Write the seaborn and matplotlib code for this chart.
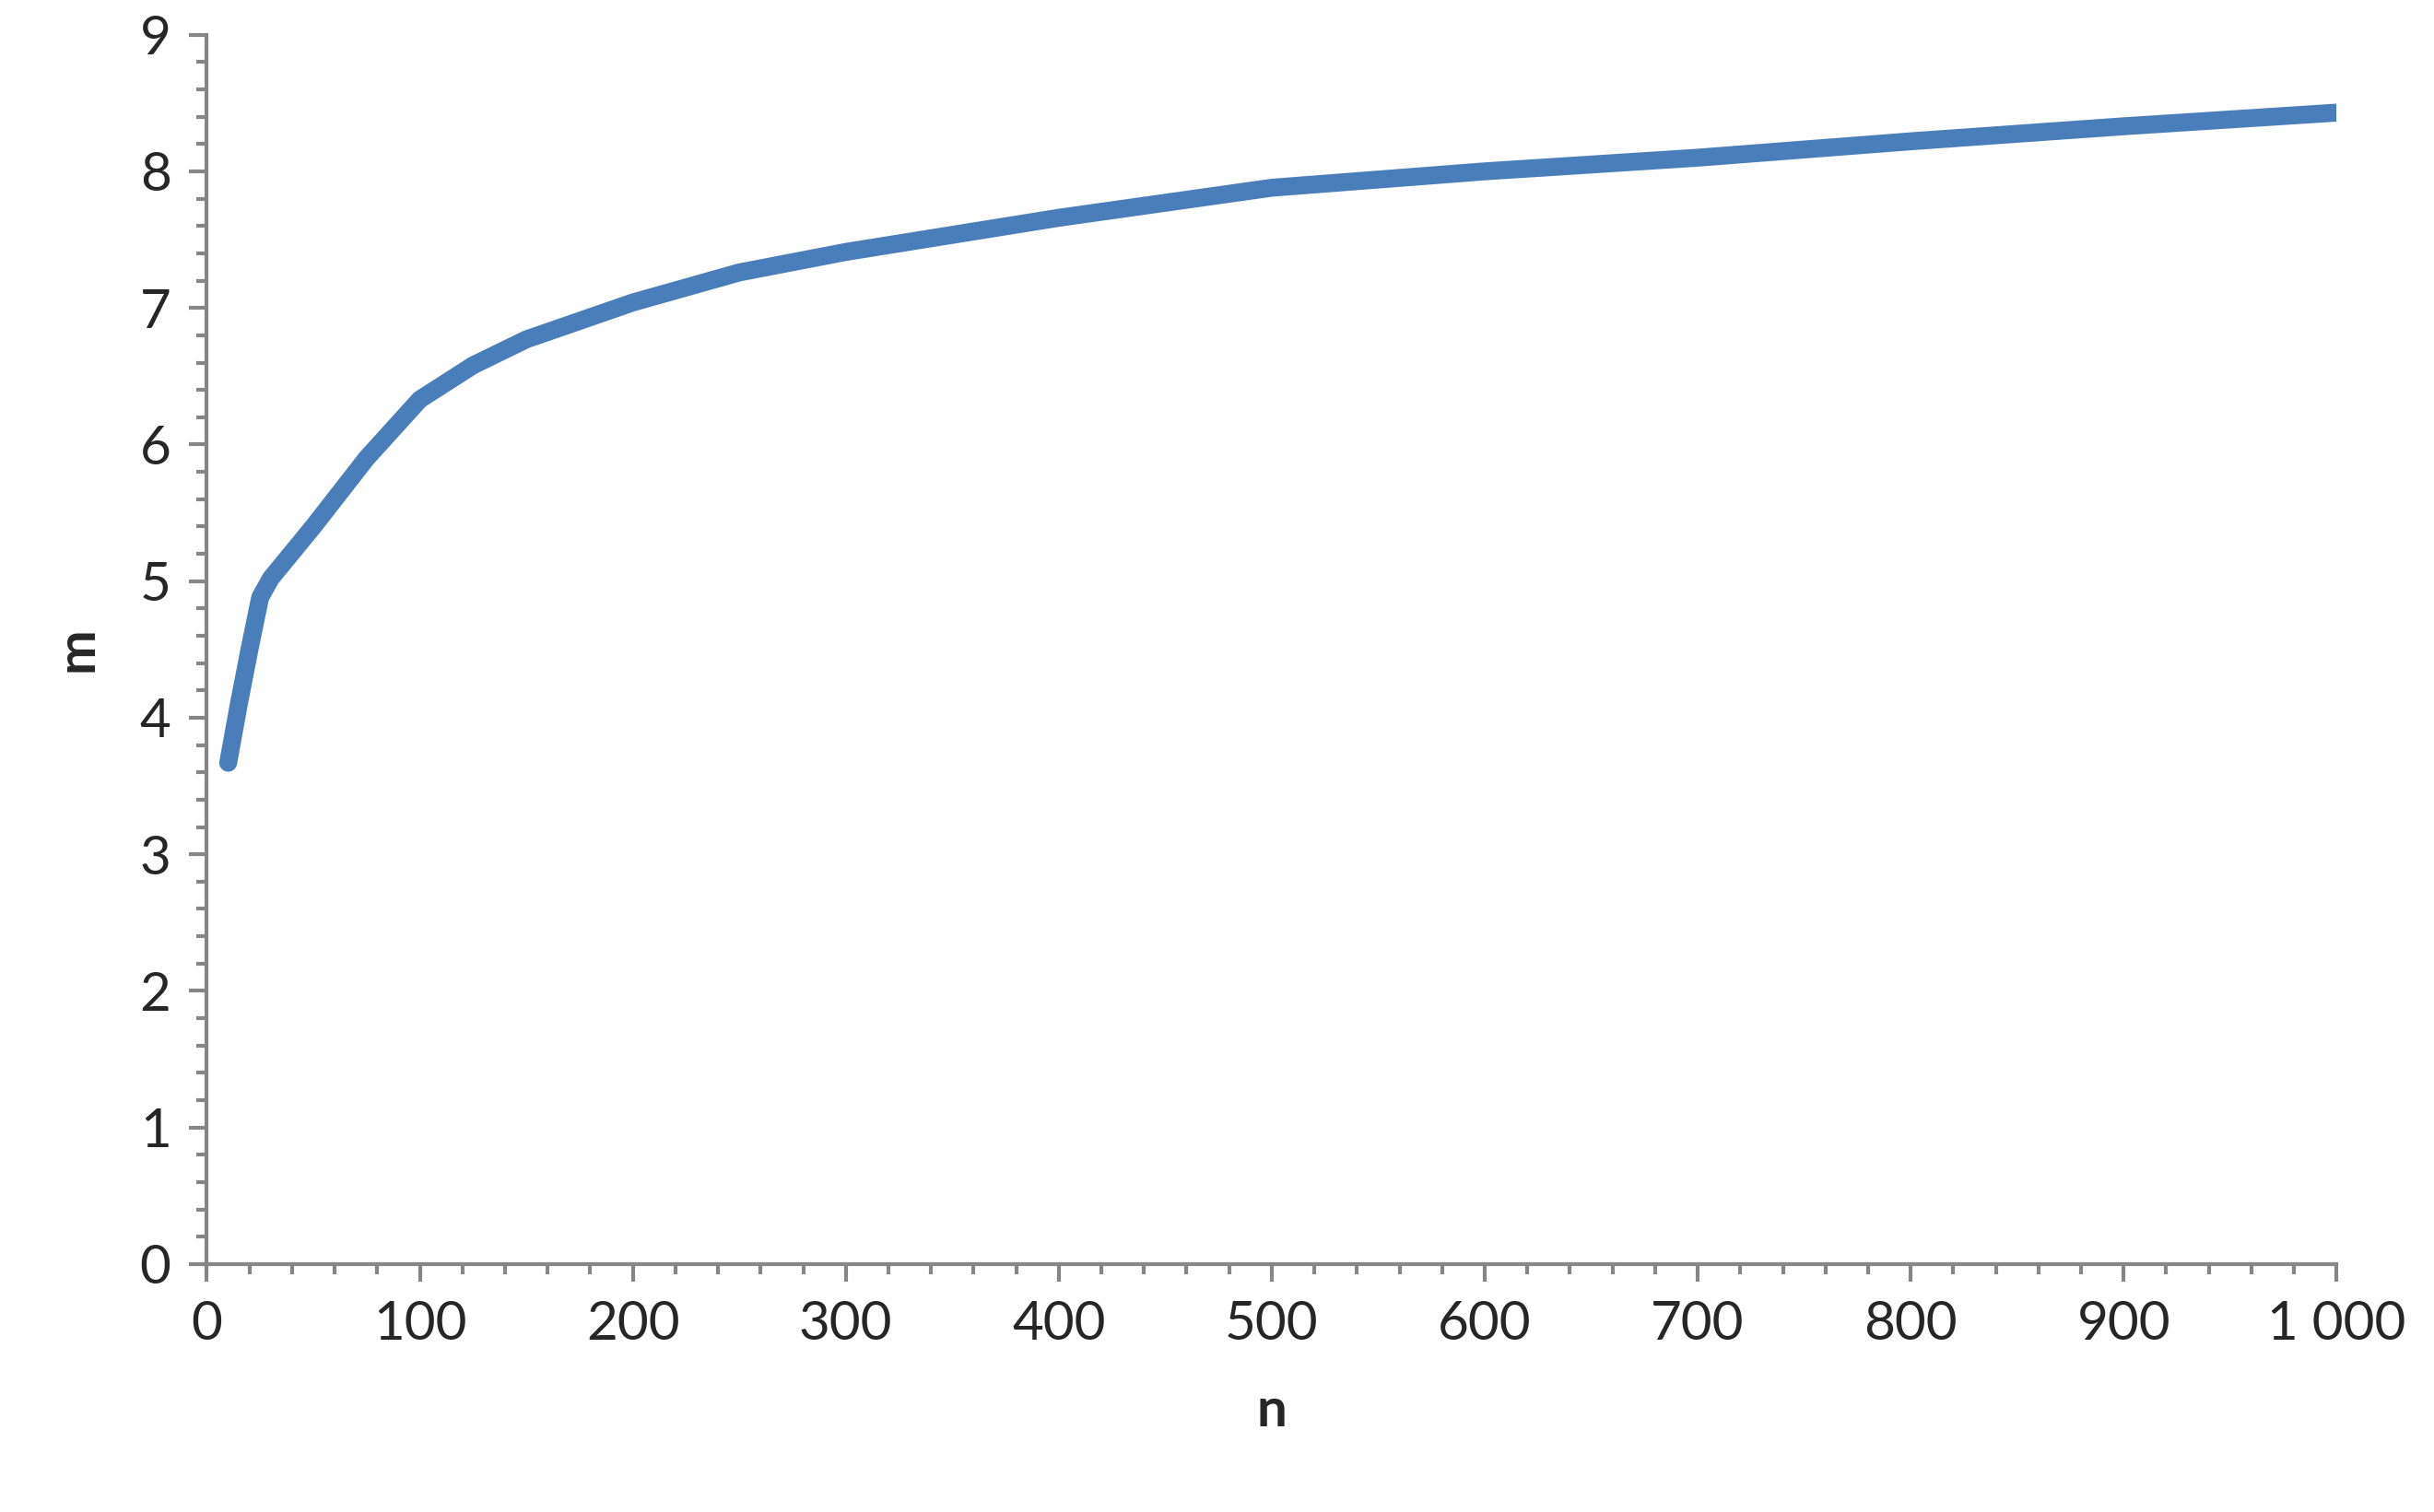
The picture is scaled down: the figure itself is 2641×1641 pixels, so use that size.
import matplotlib
matplotlib.use('Agg')
import matplotlib.pyplot as plt
import seaborn as sns
import pandas as pd
from matplotlib.ticker import MultipleLocator, FuncFormatter

# values
n_values = [10, 15, 20, 25, 30, 50, 75, 100, 125, 150, 200, 250, 300,
            400, 500, 600, 700, 800, 900, 1000]
m_values = [3.67, 4.1, 4.5, 4.88, 5.02, 5.4, 5.9, 6.33, 6.58, 6.77, 7.04,
            7.26, 7.41, 7.66, 7.88, 8.0, 8.1, 8.22, 8.33, 8.43]

df = pd.DataFrame({'n': n_values, 'm': m_values})

sns.set_style('white')
plt.rcParams['font.family'] = ['Lato', 'DejaVu Sans']

fig = plt.figure(figsize=(26.41, 16.41), dpi=100)
ax = fig.add_axes([0.085, 0.164, 0.875, 0.813])

sns.lineplot(data=df, x='n', y='m', ax=ax, color='#4a7ebb', linewidth=14,
             solid_capstyle='round', solid_joinstyle='round')

ax.set_xlim(0, 1000)
ax.set_ylim(0, 9)
ax.xaxis.set_major_locator(MultipleLocator(100))
ax.xaxis.set_minor_locator(MultipleLocator(20))
ax.yaxis.set_major_locator(MultipleLocator(1))
ax.yaxis.set_minor_locator(MultipleLocator(0.2))
ax.xaxis.set_major_formatter(FuncFormatter(lambda v, p: f'{int(v):,}'.replace(',', ' ')))

for s in ['top', 'right']:
    ax.spines[s].set_visible(False)
for s in ['left', 'bottom']:
    ax.spines[s].set_color('#868686')
    ax.spines[s].set_linewidth(3)
ax.tick_params(which='both', direction='out', color='#868686', width=3,
               bottom=True, left=True)
ax.tick_params(which='major', length=14, labelsize=42, pad=14)
ax.tick_params(which='minor', length=8)

ax.set_xlabel('n', fontsize=42, fontweight='bold', labelpad=30)
ax.set_ylabel('m', fontsize=42, fontweight='bold', labelpad=30)

fig.savefig('out.png', dpi=100)
